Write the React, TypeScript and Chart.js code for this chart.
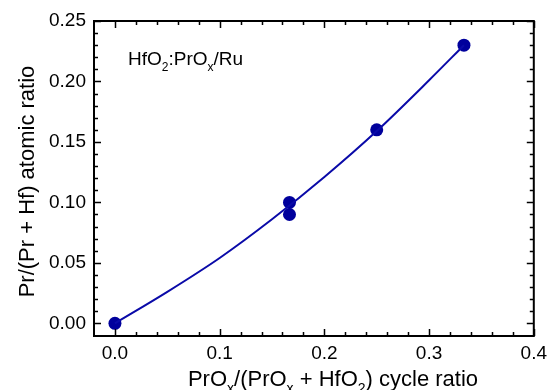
import { useEffect, useRef } from 'react';
import { Chart, registerables } from 'chart.js';
Chart.register(...registerables);

// Measured points
const pointX = [0, 0.1667, 0.1667, 0.25, 0.3333];
const pointY = [0, 0.1, 0.09, 0.16, 0.23];
// Fitted curve
const fitX = [0, 0.05, 0.1, 0.15, 0.2, 0.25, 0.3, 0.3333];
const fitY = [0, 0.026, 0.054, 0.086, 0.121, 0.159, 0.201, 0.23];
// Axis ticks
const xTicks = [0, 0.1, 0.2, 0.3, 0.4];
const yTicks = [0, 0.05, 0.1, 0.15, 0.2, 0.25];
const xMinorStep = 0.02;
const yMinorStep = 0.01;

const FONT = "'Liberation Sans', Arial, sans-serif";

type Seg = { t: string; sub?: boolean };
const annotation: Seg[] = [{ t: 'HfO' }, { t: '2', sub: true }, { t: ':PrO' }, { t: 'x', sub: true }, { t: '/Ru' }];
const xTitle: Seg[] = [
  { t: 'PrO' }, { t: 'x', sub: true }, { t: '/(PrO' }, { t: 'x', sub: true },
  { t: ' + HfO' }, { t: '2', sub: true }, { t: ') cycle ratio' },
];
const yTitle = 'Pr/(Pr + Hf) atomic ratio';

function drawSegs(ctx: CanvasRenderingContext2D, segs: Seg[], x: number, y: number, size: number, align: 'left' | 'center') {
  const subSize = Math.round(size * 0.62);
  const widths = segs.map((s) => {
    ctx.font = `${s.sub ? subSize : size}px ${FONT}`;
    return ctx.measureText(s.t).width;
  });
  const total = widths.reduce((a, b) => a + b, 0);
  let cx = align === 'center' ? x - total / 2 : x;
  ctx.textAlign = 'left';
  ctx.textBaseline = 'alphabetic';
  segs.forEach((s, i) => {
    ctx.font = `${s.sub ? subSize : size}px ${FONT}`;
    ctx.fillText(s.t, cx, s.sub ? y + size * 0.32 : y);
    cx += widths[i];
  });
}

const framePlugin = {
  id: 'frame',
  afterDraw(chart: any) {
    const { ctx, chartArea: a, scales } = chart;
    const xs = scales.x;
    const ys = scales.y;
    ctx.save();
    ctx.strokeStyle = '#000';
    ctx.fillStyle = '#000';
    // ticks
    ctx.lineWidth = 1.5;
    const major = 7;
    const minor = 4;
    ctx.beginPath();
    for (let i = 0; i <= Math.round(0.4 / xMinorStep); i++) {
      const v = i * xMinorStep;
      const px = Math.round(xs.getPixelForValue(v)) + 0.5;
      const len = i % 5 === 0 ? major : minor;
      ctx.moveTo(px, a.bottom); ctx.lineTo(px, a.bottom - len);
      ctx.moveTo(px, a.top); ctx.lineTo(px, a.top + len);
    }
    for (let i = 0; i <= Math.round(0.25 / yMinorStep); i++) {
      const v = i * yMinorStep;
      const py = Math.round(ys.getPixelForValue(v)) + 0.5;
      const len = i % 5 === 0 ? major : minor;
      ctx.moveTo(a.left, py); ctx.lineTo(a.left + len, py);
      ctx.moveTo(a.right, py); ctx.lineTo(a.right - len, py);
    }
    ctx.stroke();
    // box
    ctx.lineWidth = 2;
    ctx.strokeRect(a.left, a.top, a.right - a.left, a.bottom - a.top);
    // annotation
    drawSegs(ctx, annotation, a.left + 34, a.top + 44, 19, 'left');
    // x title
    drawSegs(ctx, xTitle, 333, 386, 22, 'center');
    // y title
    ctx.translate(33.5, 181.5);
    ctx.rotate(-Math.PI / 2);
    ctx.font = `22px ${FONT}`;
    ctx.textAlign = 'center';
    ctx.textBaseline = 'alphabetic';
    ctx.fillText(yTitle, 0, 0);
    ctx.restore();
  },
};

export default function App() {
  const ref = useRef<HTMLCanvasElement>(null);
  useEffect(() => {
    if (!ref.current) return;
    const chart = new Chart(ref.current, {
      type: 'scatter',
      data: {
        datasets: [
          {
            data: fitX.map((x, i) => ({ x, y: fitY[i] })),
            showLine: true,
            borderColor: '#0A0AA8',
            borderWidth: 2,
            pointRadius: 0,
            cubicInterpolationMode: 'monotone',
            clip: false as any,
          },
          {
            data: pointX.map((x, i) => ({ x, y: pointY[i] })),
            backgroundColor: '#00009C',
            borderColor: '#00009C',
            pointRadius: 6.5,
            borderWidth: 0,
            clip: false as any,
          },
        ],
      },
      options: {
        animation: false,
        responsive: false,
        devicePixelRatio: 1,
        layout: { padding: { top: 21, right: 14, left: 0, bottom: 0 } },
        plugins: { legend: { display: false }, tooltip: { enabled: false } },
        scales: {
          x: {
            type: 'linear',
            min: -0.02,
            max: 0.4,
            grid: { display: false, drawTicks: false },
            border: { display: false },
            afterBuildTicks: (s: any) => { s.ticks = xTicks.map((v) => ({ value: v })); },
            afterFit: (s: any) => { s.height = 54; },
            ticks: {
              padding: 6,
              color: '#000',
              font: { family: FONT, size: 19 },
              callback: (v: any) => Number(v).toFixed(1),
            },
          },
          y: {
            type: 'linear',
            min: -0.0105,
            max: 0.25,
            grid: { display: false, drawTicks: false },
            border: { display: false },
            afterBuildTicks: (s: any) => { s.ticks = yTicks.map((v) => ({ value: v })); },
            afterFit: (s: any) => { s.width = 94; },
            ticks: {
              padding: 8,
              color: '#000',
              font: { family: FONT, size: 19 },
              callback: (v: any) => Number(v).toFixed(2),
            },
          },
        },
      },
      plugins: [framePlugin],
    });
    return () => chart.destroy();
  }, []);
  return (
    <div style={{ position: 'fixed', left: 0, top: 0, width: 553, height: 390, background: '#fff' }}>
      <canvas ref={ref} width={553} height={390} />
    </div>
  );
}
